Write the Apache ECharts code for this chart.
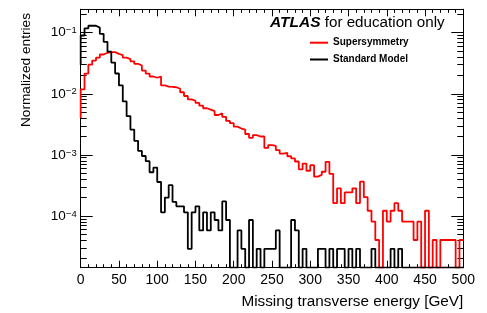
<!DOCTYPE html>
<html><head><meta charset="utf-8">
<script src="https://cdn.jsdelivr.net/npm/echarts@6/dist/echarts.min.js"></script>
<style>html,body{margin:0;padding:0;background:#fff}#c{width:487px;height:313px}</style>
</head><body><div id="c"></div>
<script>
// ---- data ----
const binEdges = [0,5,10,15,20,25,30,35,40,45,50,55,60,65,70,75,80,85,90,95,
100,105,110,115,120,125,130,135,140,145,150,155,160,165,170,175,180,185,190,195,
200,205,210,215,220,225,230,235,240,245,250,255,260,265,270,275,280,285,290,295,
300,305,310,315,320,325,330,335,340,345,350,355,360,365,370,375,380,385,390,395,
400,405,410,415,420,425,430,435,440,445,450,455,460,465,470,475,480,485,490,495,500];

const susyStart = 0.0040;
const susyValues = [
0.0118,0.0214,0.030,0.035,0.039,0.044,0.047,0.048,0.048,0.045,
0.043,0.039,0.037,0.034,0.031,0.029,0.024,0.0214,0.0192,0.0183,
0.0192,0.0137,0.0131,0.0130,0.0128,0.0121,0.0106,0.0092,0.0081,0.0077,
0.0071,0.0064,0.0058,0.0055,0.0052,0.0045,0.0048,0.0042,0.0036,0.0033,
0.0029,0.0027,0.0026,0.0022,0.0019,0.0021,0.0020,0.0020,0.0013,0.00145,
0.0014,0.0012,0.00105,0.00108,0.00095,0.00088,0.00078,0.00058,0.00072,0.00055,
0.00068,0.00044,0.00047,0.00053,0.00077,0.00049,0.000162,0.000284,0.000162,0.000243,
0.000243,0.000284,0.000162,0.000365,0.000203,0.000122,8.1e-5,4.05e-5,0,0.000122,
8.1e-5,0.000122,0.000162,0.000122,8.1e-5,8.1e-5,8.1e-5,4.05e-5,8.1e-5,0,
0.000122,0,4.05e-5,0,4.05e-5,4.05e-5,4.05e-5,4.05e-5,0,4.05e-5];

const smStart = 0.030;
const smValues = [
0.090,0.118,0.130,0.130,0.121,0.096,0.071,0.049,0.0324,0.0215,
0.0137,0.0075,0.0043,0.0026,0.0017,0.00116,0.00096,0.00079,0.00052,0.00062,
0.00036,0.000115,0.0002,0.00032,0.00017,0.000144,0.000144,0.000115,2.9e-5,0.000115,
0.000144,5.8e-5,0.000115,5.8e-5,0.000115,8.6e-5,5.8e-5,0.000173,8.6e-5,0,
0,5.8e-5,2.9e-5,0,8.6e-5,0,2.9e-5,0,2.9e-5,2.9e-5,
2.9e-5,5.8e-5,0,0,0,8.6e-5,5.8e-5,0,2.9e-5,0,
0,0,2.9e-5,2.9e-5,0,2.9e-5,0,2.9e-5,2.9e-5,0,
2.9e-5,0,2.9e-5,0,0,0,2.9e-5,0,0,0,
0,2.9e-5,0,2.9e-5,0,0,0,0,0,0,
0,0,0,0,0,0,0,0,0,0];

const seriesNames = ['Supersymmetry', 'Standard Model'];
const xTickValues = [0,50,100,150,200,250,300,350,400,450,500];
const yDecadeExponents = [-4,-3,-2,-1];

// ---- layout / style ----
const Y_MIN = -4.846, Y_MAX = -0.617;
const FONT = 'Liberation Sans, Arial, Helvetica, sans-serif';

function tr(v) { return v > 0 ? Math.max(Math.log10(v), Y_MIN) : Y_MIN; }
function outline(start, vals) {
  const pts = [[binEdges[0], tr(start)]];
  for (let i = 0; i < vals.length; i++) pts.push([binEdges[i], tr(vals[i])]);
  pts.push([binEdges[binEdges.length - 1], tr(vals[vals.length - 1])]);
  return pts;
}
const minorY = [];
for (let n = -5; n <= -1; n++) for (let k = 2; k <= 9; k++) {
  const v = n + Math.log10(k);
  if (v > Y_MIN && v < Y_MAX) minorY.push(v);
}

const chart = echarts.init(document.getElementById('c'), null, {renderer: 'canvas'});
const axisLine = {show: true, lineStyle: {color: '#000', width: 1}};
function xAx(pos, showLabel) {
  return {
    type: 'value', position: pos, min: 0, max: 500, interval: 50,
    axisLine: axisLine,
    axisTick: {show: true, inside: true, length: 7, lineStyle: {color: '#000'}},
    minorTick: {show: true, splitNumber: 5, length: 3.5, lineStyle: {color: '#000'}},
    splitLine: {show: false}, minorSplitLine: {show: false},
    axisLabel: {show: showLabel, color: '#000', fontFamily: FONT, fontSize: 14, margin: 5,
      customValues: xTickValues}
  };
}
function yAx(pos, major, showLabel) {
  return {
    type: 'value', position: pos, min: Y_MIN, max: Y_MAX,
    axisLine: axisLine,
    axisTick: {show: true, inside: true, length: major ? 12 : 6, lineStyle: {color: '#000'},
      customValues: major ? yDecadeExponents : minorY},
    splitLine: {show: false},
    axisLabel: {show: showLabel, color: '#000', margin: 4, customValues: yDecadeExponents,
      formatter: v => '{a|10}{b|' + String(Math.round(v)).replace('-', '\u2212') + '}',
      rich: {
        a: {fontFamily: FONT, fontSize: 13.5, lineHeight: 14, padding: [2, 0, 0, 0], verticalAlign: 'bottom', color: '#000'},
        b: {fontFamily: FONT, fontSize: 9.5, lineHeight: 10, verticalAlign: 'top', color: '#000'}
      }}
  };
}

chart.setOption({
  animation: false,
  backgroundColor: '#fff',
  grid: {left: 80.7, right: 23.7, top: 9.3, bottom: 45.3, containLabel: false, outerBoundsMode: 'none'},
  xAxis: [xAx('bottom', true), xAx('top', false)],
  yAxis: [yAx('left', true, true), yAx('left', false, false), yAx('right', true, false), yAx('right', false, false)],
  legend: {
    orient: 'vertical', left: 305, top: 31.7, itemWidth: 18, itemHeight: 2, itemGap: 4.8,
    icon: 'rect', selectedMode: false, data: seriesNames,
    textStyle: {fontFamily: FONT, fontWeight: 'bold', fontSize: 10, color: '#000', lineHeight: 12}
  },
  series: [
    {name: seriesNames[0], type: 'line', step: 'end', data: outline(susyStart, susyValues),
     symbol: 'none', clip: true, lineStyle: {color: '#ff0000', width: 1.8}, itemStyle: {color: '#ff0000'}},
    {name: seriesNames[1], type: 'line', step: 'end', data: outline(smStart, smValues),
     symbol: 'none', clip: true, lineStyle: {color: '#000000', width: 1.8}, itemStyle: {color: '#000000'}}
  ],
  graphic: [
    {type: 'text', x: 270, y: 22.5, style: {
      text: '{a|ATLAS}{b| for education only}', verticalAlign: 'middle', fill: '#000',
      rich: {a: {fontFamily: FONT, fontStyle: 'italic', fontWeight: 'bold', fontSize: 15.5, fill: '#000'},
             b: {fontFamily: FONT, fontSize: 15.2, fill: '#000'}}}},
    {type: 'text', x: 463.3, y: 302, style: {
      text: 'Missing transverse energy [GeV]', align: 'right', verticalAlign: 'middle',
      font: '15.3px ' + FONT, fill: '#000'}},
    {type: 'text', x: 26.7, y: 13, rotation: Math.PI / 2, style: {
      text: 'Normalized entries', align: 'right', verticalAlign: 'middle',
      font: '13.7px ' + FONT, fill: '#000'}}
  ]
});
</script></body></html>
